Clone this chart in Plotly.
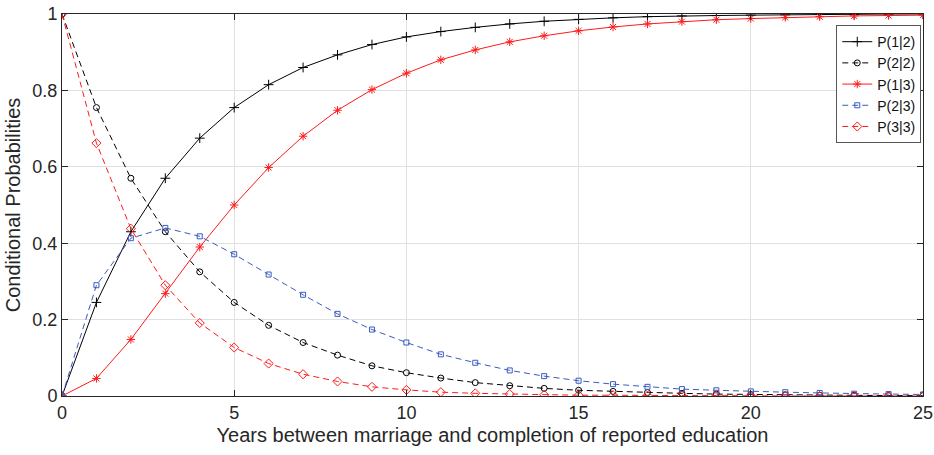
import plotly.graph_objects as go

years = list(range(26))

p12 = [0, 0.245, 0.43, 0.57, 0.675, 0.755, 0.815, 0.86, 0.893, 0.92, 0.94, 0.954, 0.965,
       0.974, 0.981, 0.986, 0.99, 0.993, 0.995, 0.996, 0.997, 0.998, 0.999, 0.999, 1.0, 1.0]
p22 = [1, 0.755, 0.57, 0.43, 0.325, 0.245, 0.185, 0.14, 0.107, 0.079, 0.061, 0.047, 0.035,
       0.027, 0.02, 0.015, 0.012, 0.009, 0.007, 0.005, 0.004, 0.003, 0.002, 0.002, 0.001, 0.001]
p13 = [0, 0.046, 0.148, 0.268, 0.39, 0.5, 0.598, 0.68, 0.748, 0.802, 0.845, 0.88, 0.906,
       0.927, 0.943, 0.956, 0.966, 0.974, 0.98, 0.985, 0.988, 0.991, 0.993, 0.995, 0.996, 0.997]
p23 = [0, 0.29, 0.413, 0.44, 0.418, 0.371, 0.318, 0.265, 0.215, 0.174, 0.14, 0.109, 0.087,
       0.067, 0.052, 0.04, 0.031, 0.024, 0.018, 0.015, 0.012, 0.01, 0.008, 0.006, 0.005, 0.004]
p33 = [1, 0.662, 0.438, 0.29, 0.191, 0.127, 0.085, 0.057, 0.038, 0.024, 0.016, 0.01, 0.007,
       0.005, 0.003, 0.002, 0.002, 0.001, 0.001, 0.001, 0, 0, 0, 0, 0, 0]

x_ticks = [0, 5, 10, 15, 20, 25]
y_ticks = [0, 0.2, 0.4, 0.6, 0.8, 1]
y_tick_labels = ["0", "0.2", "0.4", "0.6", "0.8", "1"]

BLACK = "#000000"
RED = "#ff1a1a"
BLUE = "#3a5bbf"
FONT = "Liberation Sans, Arial, sans-serif"
AX = "#262626"

series = [
    ("P(1|2)", p12, BLACK, "solid", "cross-thin", 7),
    ("P(2|2)", p22, BLACK, "dash", "circle-open", 6),
    ("P(1|3)", p13, RED, "solid", "asterisk-open", 7),
    ("P(2|3)", p23, BLUE, "dash", "square-open", 5),
    ("P(3|3)", p33, RED, "dash", "diamond-open", 7),
]

fig = go.Figure()
for name, ys, col, dash, sym, sz in series:
    fig.add_trace(go.Scatter(
        x=years, y=ys, name=name, mode="lines+markers",
        line=dict(color=col, width=1, dash=dash if dash == "solid" else "6px,4px"),
        marker=dict(symbol=sym, size=sz, color=col, line=dict(color=col, width=1)),
    ))

axis_common = dict(
    showline=True, linecolor=AX, linewidth=1, mirror="ticks",
    ticks="inside", ticklen=6, tickcolor=AX,
    showgrid=True, gridcolor="#e0e0e0", gridwidth=1, zeroline=False,
    automargin=False, ticklabeloverflow="allow",
    tickfont=dict(family=FONT, size=18, color=AX),
    title_font=dict(family=FONT, size=20, color=AX),
)

fig.update_xaxes(range=[0, 25], tickvals=x_ticks, ticktext=[str(v) for v in x_ticks],
                 title_text="Years between marriage and completion of reported education",
                 title_standoff=6, **axis_common)
fig.update_yaxes(range=[0, 1], tickvals=y_ticks, ticktext=y_tick_labels,
                 title_text="Conditional Probabilities", title_standoff=6, **axis_common)

fig.update_layout(
    width=934, height=455,
    margin=dict(l=62, r=11, t=14, b=59),
    paper_bgcolor="white", plot_bgcolor="white",
    font=dict(family=FONT, color=AX),
    legend=dict(
        x=0.998, y=0.971, xanchor="right", yanchor="top",
        bgcolor="white", bordercolor="#555555", borderwidth=1,
        font=dict(family=FONT, size=14, color="#111111"),
        itemwidth=30, tracegroupgap=0,
    ),
    showlegend=True,
)

fig.write_html("out.html")
